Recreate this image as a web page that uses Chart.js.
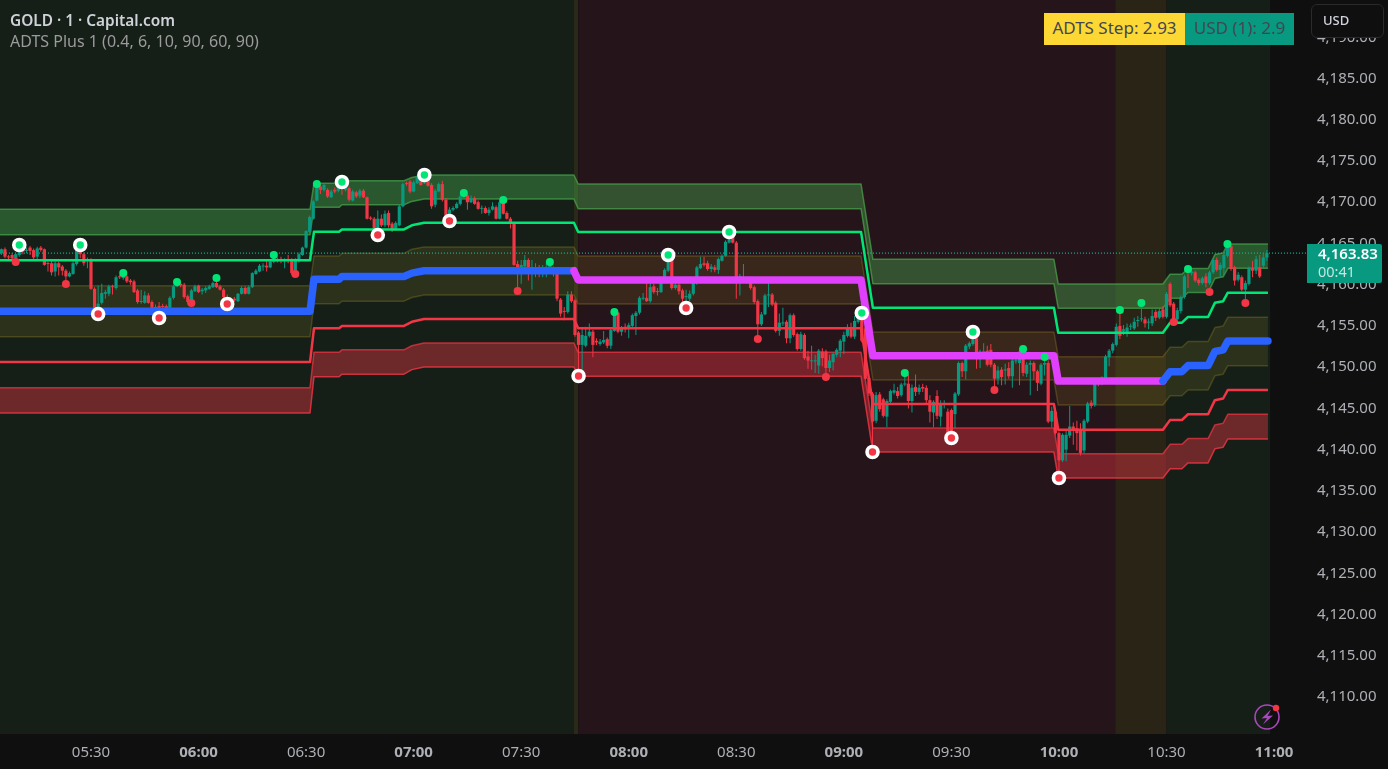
<!DOCTYPE html>
<html>
<head>
<meta charset="utf-8">
<title>GOLD 1m</title>
<script src="https://cdn.jsdelivr.net/npm/chart.js@4"></script>
<style>
  html, body { margin: 0; padding: 0; background: #0f0f0f; overflow: hidden; }
  #wrap { position: relative; width: 1388px; height: 769px; font-family: "Noto Sans", sans-serif; }
  canvas { position: absolute; left: 0; top: 0; }
  .txt { position: absolute; white-space: nowrap; }
  #symbol { left: 10px; top: 10px; font-size: 15.4px; font-weight: 600; color: #cfd2d8; }
  #study { left: 10px; top: 30px; font-size: 16px; color: #9b9b9b; }
  #stepBox { left: 1044px; top: 13px; width: 141px; height: 32px; line-height: 30px; text-align: center; background: #fdd835; color: #434651; font-size: 17px; }
  #usdBox { left: 1185px; top: 13px; width: 109px; height: 32px; line-height: 30px; text-align: center; background: #089981; color: #434651; font-size: 17px; }
  #currency { left: 1311px; top: 4px; width: 71px; height: 32px; line-height: 31px; background: #0f0f0f; border: 1px solid #2a2a2a; border-radius: 6px; color: #d1d4dc; font-size: 13px; font-weight: 500; text-indent: 11px; }
  #lastBox { left: 1307px; top: 244px; width: 75px; height: 39px; background: #089981; border-radius: 0 2px 2px 0; }
  #lastPrice { left: 1318px; top: 244px; font-size: 15px; font-weight: 600; color: #fff; line-height: 19px; }
  #countdown { left: 1318px; top: 262px; font-size: 14.5px; color: #c4e6df; line-height: 19px; }
  #bolt { position: absolute; left: 1253px; top: 703px; }
</style>
</head>
<body>
<div id="wrap">
  <canvas id="goldChart" width="1388" height="769"></canvas>
  <div class="txt" id="symbol">GOLD · 1 · Capital.com</div>
  <div class="txt" id="study">ADTS Plus 1 (0.4, 6, 10, 90, 60, 90)</div>
  <div class="txt" id="stepBox">ADTS Step: 2.93</div>
  <div class="txt" id="usdBox">USD (1): 2.9</div>
  <div class="txt" id="currency">USD</div>
  <div class="txt" id="lastBox"></div>
  <div class="txt" id="lastPrice">4,163.83</div>
  <div class="txt" id="countdown">00:41</div>
  <svg id="bolt" width="30" height="30" viewBox="0 0 30 30">
    <circle cx="14" cy="14" r="12" fill="none" stroke="#ab47bc" stroke-width="1.6"/>
    <path d="M18 6.5 L8.5 15.5 L14 15 L10 21.5 L20 12.5 L14.5 13 Z" fill="#ab47bc"/>
    <circle cx="23" cy="5" r="3.2" fill="#f23645"/>
  </svg>
</div>
<script>
// one candle per minute, the first one is at 05:05
const firstMinute = 305;
const opens = [
4163.8,4164.3,4163.4,4163.6,4163.2,4163.6,4164.4,4164.1,4164.5,4164.2,
4163.4,4164.5,4164.3,4162.6,4162.6,4161.6,4162.6,4162.2,4161.7,4161.0,
4161.3,4162.5,4164.4,4163.7,4162.9,4163.0,4159.5,4156.5,4157.8,4158.9,
4158.9,4159.8,4159.6,4161.0,4160.8,4161.0,4160.5,4160.4,4159.3,4157.9,
4157.8,4158.7,4157.9,4156.9,4157.4,4157.4,4157.4,4157.2,4158.4,4159.8,
4160.1,4160.0,4158.6,4157.9,4159.2,4159.9,4159.2,4159.3,4159.5,4159.7,
4160.2,4159.8,4159.4,4158.5,4157.8,4158.3,4158.0,4158.9,4159.6,4158.9,
4159.7,4161.3,4161.6,4162.2,4162.3,4162.1,4162.8,4163.1,4163.1,4162.9,
4163.1,4162.9,4161.4,4162.9,4163.6,4164.5,4166.4,4168.0,4170.2,4171.9,
4171.5,4171.5,4170.6,4171.5,4171.4,4172.1,4171.5,4171.7,4170.2,4171.2,
4170.8,4171.4,4170.6,4168.1,4168.0,4166.6,4168.0,4167.2,4168.7,4167.4,
4166.8,4167.2,4169.5,4172.3,4172.5,4171.3,4172.3,4173.0,4172.3,4172.9,
4172.1,4169.7,4171.3,4172.2,4170.3,4168.5,4169.1,4169.3,4169.8,4170.6,
4170.8,4170.0,4170.5,4170.0,4169.2,4169.3,4168.7,4169.1,4169.4,4168.0,
4169.9,4168.7,4168.0,4167.4,4162.5,4161.5,4162.2,4163.0,4161.3,4161.4,
4162.1,4161.3,4161.8,4161.8,4161.8,4161.3,4158.2,4156.8,4156.7,4158.8,
4158.1,4154.2,4152.7,4152.6,4153.8,4154.3,4153.2,4152.8,4153.0,4153.4,
4152.6,4154.4,4156.6,4154.3,4154.9,4154.8,4155.0,4156.2,4156.6,4158.3,
4158.4,4158.0,4159.8,4159.2,4159.1,4160.5,4161.7,4163.3,4159.6,4160.0,
4159.3,4158.5,4158.3,4158.9,4160.5,4162.0,4162.6,4162.6,4161.9,4162.1,
4161.8,4162.9,4163.5,4165.1,4166.1,4165.1,4160.3,4160.8,4160.8,4160.6,
4159.7,4158.0,4155.2,4156.4,4158.7,4158.8,4157.8,4154.4,4155.3,4155.5,
4153.5,4156.3,4154.0,4152.2,4153.9,4151.3,4150.7,4150.7,4150.2,4151.9,
4151.9,4149.9,4150.6,4151.5,4152.0,4153.1,4153.8,4154.8,4153.7,4155.5,
4156.4,4154.7,4148.7,4146.8,4143.5,4146.7,4146.1,4144.0,4145.8,4146.9,
4147.1,4146.6,4147.9,4148.0,4145.9,4147.6,4147.0,4147.6,4147.5,4146.0,
4144.5,4146.5,4144.0,4145.5,4144.6,4144.8,4144.3,4146.7,4150.5,4149.5,
4152.5,4152.8,4153.5,4151.3,4151.8,4152.0,4152.1,4150.3,4148.6,4149.7,
4149.6,4149.9,4148.9,4150.7,4150.5,4151.9,4149.2,4150.3,4150.5,4149.5,
4148.0,4150.3,4150.5,4143.4,4144.6,4142.0,4138.7,4140.0,4141.7,4142.8,
4142.6,4142.4,4139.9,4143.4,4145.7,4145.4,4148.4,4148.6,4148.6,4151.2,
4152.0,4152.7,4155.0,4154.4,4154.3,4154.9,4154.7,4155.6,4155.8,4155.8,
4155.4,4155.3,4156.7,4156.0,4157.0,4156.1,4160.1,4157.7,4155.8,4156.8,
4158.5,4161.6,4161.4,4161.5,4160.6,4160.2,4161.0,4160.2,4161.5,4163.0,
4161.8,4162.0,4163.5,4164.7,4162.1,4160.6,4160.9,4159.4,4160.1,4162.0,
4161.7,4162.1,4162.3,4163.3];
const closes = [
4164.3,4163.4,4163.3,4163.2,4163.7,4164.8,4164.0,4164.2,4164.1,4163.3,
4164.4,4164.2,4162.4,4162.5,4161.5,4162.6,4162.1,4161.7,4161.0,4161.4,
4162.6,4164.2,4163.7,4162.6,4163.1,4159.5,4156.7,4157.7,4159.0,4159.1,
4159.8,4159.7,4160.9,4160.9,4161.6,4160.4,4160.3,4159.1,4157.9,4158.0,
4158.7,4157.8,4157.0,4157.3,4157.0,4157.3,4156.9,4158.4,4159.8,4160.2,
4159.9,4158.5,4157.9,4159.3,4159.8,4159.1,4159.4,4159.6,4159.8,4160.2,
4159.7,4159.4,4158.5,4157.7,4158.2,4158.1,4158.9,4159.6,4158.9,4159.7,
4161.4,4161.7,4162.3,4162.3,4162.1,4162.8,4163.2,4163.0,4163.0,4163.0,
4163.0,4161.4,4163.0,4163.7,4164.5,4166.5,4168.2,4170.1,4172.3,4171.5,
4172.1,4170.7,4171.3,4171.3,4172.1,4171.7,4172.0,4170.3,4171.3,4170.7,
4171.4,4170.6,4168.0,4168.0,4166.4,4168.0,4167.2,4168.6,4167.2,4166.6,
4167.5,4169.5,4172.2,4172.2,4171.3,4172.4,4173.0,4172.1,4173.3,4172.0,
4169.5,4171.4,4172.2,4170.3,4168.4,4169.1,4169.3,4169.8,4170.7,4171.1,
4170.0,4170.5,4169.8,4169.2,4169.3,4168.7,4169.1,4169.5,4168.0,4170.0,
4168.6,4168.0,4167.4,4162.4,4161.3,4162.4,4163.0,4161.3,4162.1,4161.9,
4161.3,4161.9,4161.9,4162.4,4161.4,4158.3,4156.5,4156.7,4158.8,4158.0,
4153.9,4152.7,4153.9,4153.8,4154.3,4152.7,4153.0,4153.1,4153.3,4152.6,
4154.5,4156.5,4154.3,4154.8,4154.6,4155.1,4156.3,4156.6,4158.4,4158.4,
4158.0,4159.7,4159.1,4159.1,4160.5,4161.8,4163.4,4159.6,4160.0,4159.2,
4158.3,4158.6,4158.9,4160.6,4162.1,4162.5,4162.4,4161.9,4162.2,4161.8,
4163.1,4163.5,4165.2,4166.2,4165.1,4160.3,4161.0,4160.9,4160.4,4159.6,
4157.9,4155.2,4156.4,4158.7,4158.8,4157.6,4154.4,4155.4,4155.4,4153.5,
4156.3,4153.9,4152.2,4154.0,4151.1,4150.8,4150.8,4150.8,4152.0,4151.1,
4149.9,4150.8,4151.6,4152.1,4153.2,4153.9,4154.8,4153.7,4155.6,4156.1,
4153.2,4148.6,4146.8,4143.4,4146.6,4144.9,4144.1,4145.9,4147.1,4147.2,
4146.5,4147.9,4148.0,4145.9,4147.5,4147.0,4147.5,4147.4,4146.0,4144.6,
4145.8,4144.1,4145.5,4145.6,4142.0,4141.9,4146.8,4150.5,4149.5,4152.6,
4152.9,4153.7,4151.3,4151.9,4151.9,4150.3,4150.3,4148.6,4149.6,4148.8,
4149.7,4148.9,4150.8,4150.8,4151.9,4149.3,4150.3,4150.5,4149.5,4148.1,
4150.3,4150.5,4143.4,4144.7,4142.0,4138.7,4141.8,4141.8,4142.8,4142.4,
4142.0,4139.6,4143.5,4145.6,4145.3,4148.2,4148.1,4148.7,4151.3,4152.0,
4152.8,4154.9,4153.8,4154.6,4154.8,4155.0,4155.5,4155.7,4155.9,4155.3,
4155.5,4156.2,4156.0,4156.8,4156.1,4158.9,4157.5,4155.6,4156.9,4158.5,
4161.0,4161.4,4161.6,4160.5,4160.2,4160.8,4160.2,4161.5,4163.0,4161.8,
4162.4,4163.6,4164.7,4161.9,4160.5,4161.2,4159.4,4160.2,4162.0,4161.7,
4163.1,4161.0,4163.3,4163.83];
const highs = [
4164.4,4164.5,4163.6,4163.8,4163.9,4165.0,4164.6,4164.5,4164.7,4164.4,
4164.6,4164.7,4164.4,4162.8,4162.9,4162.8,4162.8,4162.4,4161.9,4161.6,
4162.8,4164.5,4165.0,4163.9,4163.3,4163.2,4159.7,4159.9,4160.1,4159.4,
4160.0,4160.0,4161.1,4161.2,4161.7,4161.2,4160.7,4160.6,4159.5,4159.4,
4159.2,4159.0,4158.1,4157.6,4157.9,4157.7,4157.6,4158.6,4160.0,4160.3,
4160.3,4160.2,4158.8,4159.5,4160.0,4160.0,4159.6,4159.8,4160.0,4160.4,
4160.8,4160.0,4159.6,4158.8,4158.5,4158.5,4159.0,4159.8,4159.8,4159.9,
4161.5,4161.9,4162.5,4162.6,4162.9,4163.0,4163.5,4163.3,4163.4,4163.2,
4163.6,4163.2,4163.2,4163.9,4164.6,4166.6,4168.4,4170.3,4172.4,4172.2,
4172.3,4171.7,4171.5,4171.8,4172.3,4172.4,4172.2,4171.9,4171.5,4171.4,
4171.6,4171.6,4170.7,4168.3,4168.2,4169.0,4168.5,4169.0,4169.0,4167.6,
4167.7,4169.7,4172.4,4172.5,4172.7,4172.6,4173.2,4173.2,4173.5,4173.1,
4172.3,4171.6,4172.4,4172.6,4170.5,4169.4,4169.5,4170.0,4170.9,4171.3,
4171.0,4170.8,4170.7,4170.2,4169.6,4169.5,4169.4,4170.0,4169.6,4170.2,
4170.3,4168.9,4168.2,4167.5,4162.9,4163.0,4163.6,4163.2,4163.0,4162.6,
4162.4,4162.4,4162.6,4162.7,4162.2,4161.5,4158.4,4157.3,4159.2,4159.2,
4158.3,4154.4,4154.7,4154.9,4155.3,4154.5,4153.5,4153.4,4154.4,4153.6,
4154.8,4156.7,4156.7,4155.0,4155.3,4155.4,4156.5,4156.8,4158.6,4159.0,
4160.4,4160.2,4160.1,4159.6,4160.7,4162.0,4163.6,4163.5,4160.2,4160.2,
4159.5,4159.4,4159.3,4160.8,4162.3,4163.4,4163.4,4162.9,4162.5,4162.4,
4163.3,4163.7,4165.4,4166.4,4166.3,4165.3,4161.3,4162.5,4161.0,4160.8,
4159.9,4158.2,4156.7,4158.9,4160.3,4159.0,4158.0,4156.5,4157.2,4155.7,
4156.5,4156.5,4154.2,4154.3,4154.1,4152.0,4152.6,4151.5,4152.2,4152.3,
4152.1,4151.5,4151.8,4152.3,4153.4,4154.3,4155.2,4155.4,4156.2,4156.4,
4156.8,4154.9,4149.0,4147.0,4147.0,4147.0,4146.3,4146.1,4147.3,4148.0,
4147.6,4148.1,4149.1,4149.1,4147.9,4149.1,4147.9,4148.0,4147.8,4146.6,
4146.0,4147.2,4146.0,4146.0,4145.0,4145.0,4147.0,4150.7,4150.7,4152.8,
4153.1,4154.3,4153.8,4152.1,4152.9,4152.6,4152.8,4150.5,4150.1,4150.0,
4150.4,4150.6,4151.0,4151.2,4152.2,4152.2,4150.6,4150.8,4150.7,4149.7,
4150.5,4151.2,4150.8,4145.2,4145.0,4142.2,4142.0,4142.3,4145.3,4143.3,
4143.5,4143.2,4143.7,4145.8,4146.0,4148.4,4148.7,4148.9,4151.5,4152.2,
4153.0,4155.3,4156.9,4155.1,4155.3,4155.3,4156.0,4156.2,4157.7,4156.1,
4155.9,4157.0,4157.0,4157.2,4157.4,4159.1,4160.3,4157.9,4157.2,4158.7,
4161.2,4161.9,4161.8,4161.7,4160.8,4161.0,4161.4,4161.7,4163.2,4163.3,
4162.7,4163.9,4164.9,4164.9,4162.3,4161.5,4161.1,4160.5,4162.2,4162.9,
4163.5,4163.6,4163.8,4164.2];
const lows = [
4163.6,4163.2,4163.0,4162.9,4162.8,4163.4,4163.7,4163.8,4163.6,4163.0,
4163.1,4164.0,4162.3,4161.6,4161.1,4161.0,4161.1,4161.1,4160.3,4160.9,
4161.2,4162.3,4163.2,4162.3,4162.0,4159.4,4156.5,4156.1,4157.6,4158.3,
4158.6,4158.8,4159.4,4160.7,4160.6,4160.2,4160.0,4159.0,4157.7,4157.7,
4157.7,4157.7,4156.9,4156.7,4156.3,4156.9,4156.7,4157.1,4158.2,4159.7,
4159.7,4158.3,4157.6,4157.7,4159.1,4159.0,4158.8,4159.0,4159.4,4159.6,
4159.6,4159.3,4158.3,4157.4,4157.5,4157.9,4157.9,4158.8,4158.8,4158.8,
4159.6,4161.2,4161.5,4161.7,4161.6,4162.0,4162.6,4162.7,4162.6,4162.0,
4162.6,4161.2,4161.3,4162.7,4163.5,4164.4,4166.3,4167.9,4170.1,4171.0,
4171.3,4170.5,4170.5,4171.1,4171.2,4170.9,4171.3,4170.1,4170.1,4170.5,
4170.5,4170.5,4167.9,4167.8,4165.8,4166.2,4167.0,4167.0,4166.9,4166.4,
4166.6,4167.1,4169.4,4172.0,4171.1,4171.2,4172.2,4172.0,4172.2,4171.9,
4169.2,4169.4,4171.2,4170.1,4167.9,4167.8,4168.9,4169.2,4169.6,4170.5,
4169.1,4169.9,4169.7,4169.1,4168.6,4168.6,4168.4,4169.0,4167.9,4167.9,
4168.5,4167.9,4166.8,4162.3,4159.4,4160.1,4162.0,4160.5,4159.4,4160.9,
4160.9,4160.9,4160.9,4161.5,4161.0,4158.0,4156.1,4155.7,4156.5,4157.8,
4153.7,4149.0,4149.2,4152.4,4153.6,4151.2,4152.7,4152.6,4152.8,4152.3,
4152.2,4154.3,4154.1,4153.8,4154.2,4153.5,4154.8,4153.9,4156.4,4158.1,
4157.9,4157.8,4158.9,4158.7,4159.0,4160.3,4161.5,4159.4,4159.4,4158.8,
4157.6,4157.4,4158.0,4158.7,4160.0,4161.9,4162.2,4161.7,4161.5,4161.5,
4161.3,4162.8,4163.4,4165.0,4165.0,4158.3,4158.7,4160.3,4160.2,4159.4,
4157.7,4153.4,4155.0,4156.3,4157.3,4157.4,4154.2,4153.8,4155.0,4152.9,
4152.9,4153.7,4152.0,4152.0,4150.9,4149.8,4149.7,4149.3,4149.2,4150.1,
4148.8,4149.4,4149.6,4151.2,4151.2,4151.6,4153.6,4153.5,4153.4,4155.3,
4153.0,4148.5,4146.5,4139.7,4143.2,4144.6,4143.9,4142.7,4145.6,4146.7,
4146.2,4146.4,4147.7,4145.0,4144.5,4146.5,4146.7,4147.0,4145.4,4143.3,
4142.7,4143.7,4142.8,4145.0,4141.5,4141.4,4142.6,4146.5,4148.8,4148.5,
4152.2,4152.6,4149.8,4149.9,4151.0,4150.1,4150.0,4147.2,4147.9,4147.8,
4147.9,4148.6,4147.5,4150.4,4147.8,4148.9,4148.8,4146.6,4148.5,4147.1,
4147.8,4149.0,4143.2,4142.7,4141.8,4136.6,4138.5,4138.6,4141.4,4140.6,
4139.9,4139.3,4139.6,4143.2,4145.0,4145.2,4147.7,4147.8,4148.4,4150.1,
4151.7,4152.5,4153.4,4153.9,4153.7,4154.5,4154.5,4154.9,4155.5,4154.8,
4154.6,4155.0,4155.6,4155.8,4155.9,4155.9,4157.3,4155.4,4155.2,4156.5,
4158.3,4159.6,4161.1,4160.3,4159.9,4160.0,4159.7,4160.0,4161.3,4161.6,
4161.0,4161.2,4163.3,4161.7,4159.9,4160.4,4159.2,4157.8,4159.9,4160.9,
4161.3,4160.8,4162.0,4162.9];

// indicator levels, minutes since midnight where the steps happen
const levelTimes = [304.6,391.1,392.2,399.2,400,417.3,419.5,422.9,464.7,465.9,544.8,548.1,598.6,599.8,629,631,634.3,636,641.6,643.5,645.8,647.1,658.3];
const upperBandTop = [4169.14,4169.14,4172.29,4172.29,4172.6,4172.6,4173,4173.3,4173.3,4172.21,4172.21,4163.08,4163.08,4160.08,4160.08,4161.26,4161.26,4161.96,4161.96,4163.65,4163.85,4164.93,4164.93];
const upperBandBottom = [4166.06,4166.06,4169.38,4169.38,4169.7,4169.7,4170.1,4170.39,4170.39,4169.21,4169.21,4160.12,4160.12,4157.14,4157.14,4158.35,4158.35,4159.05,4159.05,4160.75,4160.95,4161.99,4161.99];
const upperLine = [4162.96,4162.96,4166.42,4166.42,4166.7,4166.7,4167.2,4167.51,4167.51,4166.39,4166.39,4157.21,4157.21,4154.18,4154.18,4155.39,4155.39,4156.09,4156.09,4157.8,4158,4159.03,4159.03];
const midBandTop = [4159.88,4159.88,4163.48,4163.48,4163.8,4163.8,4164.3,4164.57,4164.57,4163.48,4163.48,4154.26,4154.26,4151.27,4151.27,4152.41,4152.41,4153.11,4153.11,4154.8,4155,4156.04,4156.04];
const centreLine = [4156.77,4156.77,4160.65,4160.65,4161,4161,4161.4,4161.69,4161.69,4160.57,4160.57,4151.39,4151.39,4148.32,4148.32,4149.45,4149.45,4150.2,4150.2,4151.9,4152.1,4153.17,4153.17];
const midBandBottom = [4153.69,4153.69,4157.69,4157.69,4158,4158,4158.45,4158.75,4158.75,4157.66,4157.66,4148.44,4148.44,4145.41,4145.41,4146.54,4146.54,4147.24,4147.24,4148.95,4149.15,4150.18,4150.18];
const lowerLine = [4150.62,4150.62,4154.71,4154.71,4155,4155,4155.5,4155.84,4155.84,4154.71,4154.71,4145.53,4145.53,4142.41,4142.41,4143.59,4143.59,4144.29,4144.29,4146,4146.2,4147.23,4147.23];
const lowerBandTop = [4147.51,4147.51,4151.8,4151.8,4152.1,4152.1,4152.6,4152.93,4152.93,4151.8,4151.8,4142.62,4142.62,4139.5,4139.5,4140.64,4140.64,4141.34,4141.34,4143,4143.2,4144.28,4144.28];
const lowerBandBottom = [4144.44,4144.44,4148.84,4148.84,4149.15,4149.15,4149.7,4150.02,4150.02,4148.89,4148.89,4139.71,4139.71,4136.56,4136.56,4137.69,4137.69,4138.39,4138.39,4140.1,4140.3,4141.29,4141.29];

// pivot markers: minute and price
const ringHighTimes = [310,327,400,423,491,508,545,576];
const ringHighPrices = [4164.81,4164.81,4172.45,4173.3,4163.6,4166.39,4156.57,4154.26];
const ringLowTimes = [332,349,368,410,430,466,496,548,570,600];
const ringLowPrices = [4156.44,4155.96,4157.66,4166.02,4167.72,4148.93,4157.17,4139.71,4141.41,4136.56];
const dotHighTimes = [339,354,365,381,393,434,445,458,476,557,590,596,617,623,636,647];
const dotHighPrices = [4161.42,4160.32,4160.81,4163.6,4172.21,4171.12,4170.27,4162.75,4156.69,4149.29,4152.2,4151.23,4156.93,4157.78,4161.9,4164.93];
const dotLowTimes = [309,323,358,387,449,516,535,582,632,642,652];
const dotLowPrices = [4162.75,4160.08,4157.78,4161.29,4159.23,4153.41,4148.8,4147.23,4155.47,4159.11,4157.78];

// session shading
const zoneStarts = [304.6,464.7,465.9,615.7,630];
const zoneEnds = [464.7,465.9,615.7,630,658.9];
const zoneColors = ['#151f18','#2a2a18','#25141a','#2a2417','#151f18'];

const lastPrice = 4163.83;

const GREEN = '#089981', RED = '#f23645';
const minutes = opens.map((_, i) => firstMinute + i);
const candleColors = opens.map((o, i) => closes[i] >= o ? GREEN : RED);
const pts = (xs, ys) => xs.map((x, i) => ({x: x, y: ys[i]}));

function levelLine(values, color, width, order, extra) {
    return Object.assign({
        type: 'line',
        data: pts(levelTimes, values),
        borderColor: color,
        borderWidth: width,
        pointRadius: 0,
        fill: false,
        order: order,
        borderJoinStyle: 'round'
    }, extra || {});
}

function centrePart(from, to, color, order) {
    return {
        type: 'line',
        data: pts(levelTimes.slice(from, to), centreLine.slice(from, to)),
        borderColor: color,
        borderWidth: 7.5,
        pointRadius: 0,
        fill: false,
        order: order,
        borderCapStyle: 'round',
        borderJoinStyle: 'round'
    };
}

function markers(xs, ys, color, ring, order) {
    return {
        type: 'line',
        showLine: false,
        data: pts(xs, ys),
        pointRadius: ring ? 5.5 : 4,
        pointBorderWidth: ring ? 3.6 : 0,
        pointBorderColor: '#ffffff',
        pointBackgroundColor: color,
        order: order
    };
}

// the axes must not push the plot in for half a tick label
function noLabelMargins(scale) {
    scale.paddingLeft = 0;
    scale.paddingRight = 0;
    scale.paddingTop = 0;
    scale.paddingBottom = 0;
}

const zonePlugin = {
    id: 'zones',
    beforeDatasetsDraw(chart) {
        const {ctx, chartArea, scales} = chart;
        ctx.save();
        zoneStarts.forEach((s, i) => {
            const x0 = scales.x.getPixelForValue(s);
            const x1 = scales.x.getPixelForValue(zoneEnds[i]);
            ctx.fillStyle = zoneColors[i];
            ctx.fillRect(x0, chartArea.top, x1 - x0, chartArea.bottom - chartArea.top);
        });
        ctx.restore();
    }
};

const goldCtx = document.getElementById('goldChart').getContext('2d');
const goldChart = new Chart(goldCtx, {
    type: 'bar',
    plugins: [zonePlugin],
    data: {
        datasets: [
            levelLine(upperBandTop, 'rgba(76,175,80,0.65)', 1.5, 60, {fill: {target: 1}, backgroundColor: 'rgba(76,175,80,0.4)'}),
            levelLine(upperBandBottom, 'rgba(76,175,80,0.65)', 1.5, 60),
            levelLine(midBandTop, 'rgba(230,200,50,0.2)', 1.5, 60, {fill: {target: 3}, backgroundColor: 'rgba(230,200,50,0.11)'}),
            levelLine(midBandBottom, 'rgba(230,200,50,0.2)', 1.5, 60),
            levelLine(lowerBandTop, 'rgba(242,54,69,0.7)', 1.5, 60, {fill: {target: 5}, backgroundColor: 'rgba(242,54,69,0.4)'}),
            levelLine(lowerBandBottom, 'rgba(242,54,69,0.8)', 1.5, 60),
            {
                type: 'line',
                data: pts([304.6, 669.4], [lastPrice, lastPrice]),
                borderColor: '#12b397',
                borderWidth: 1.2,
                borderDash: [1, 2],
                pointRadius: 0,
                order: 45
            },
            {
                data: minutes.map((m, i) => ({x: m, y: [lows[i], highs[i]]})),
                backgroundColor: candleColors,
                barThickness: 1,
                grouped: false,
                inflateAmount: 0,
                order: 40
            },
            {
                data: minutes.map((m, i) => ({x: m, y: [opens[i], closes[i]]})),
                backgroundColor: candleColors,
                barThickness: 3.2,
                grouped: false,
                minBarLength: 1,
                inflateAmount: 0,
                order: 39
            },
            levelLine(upperLine, '#00e676', 2.5, 20),
            levelLine(lowerLine, RED, 2.5, 20),
            centrePart(0, 9, '#2962ff', 12),
            centrePart(8, 15, '#e040fb', 11),
            centrePart(14, 23, '#2962ff', 10),
            markers(dotHighTimes, dotHighPrices, '#00e676', false, 3),
            markers(dotLowTimes, dotLowPrices, RED, false, 3),
            markers(ringHighTimes, ringHighPrices, '#00e676', true, 2),
            markers(ringLowTimes, ringLowPrices, RED, true, 2)
        ]
    },
    options: {
        responsive: false,
        animation: false,
        events: [],
        layout: {padding: 0, autoPadding: false},
        plugins: {legend: {display: false}, tooltip: {enabled: false}},
        scales: {
            x: {
                type: 'linear',
                offset: false,
                min: 304.62,
                max: 669.47,
                afterFit(scale) { scale.height = 35; noLabelMargins(scale); },
                grid: {display: false, offset: false},
                border: {display: false},
                ticks: {
                    stepSize: 30,
                    includeBounds: false,
                    autoSkip: false,
                    maxRotation: 0,
                    padding: 2,
                    color: '#aeb0b5',
                    font: ctx => ({
                        family: '"Noto Sans", sans-serif',
                        size: 15,
                        weight: ctx.tick && ctx.tick.value % 60 === 0 ? 'bold' : 'normal'
                    }),
                    callback: v => String(Math.floor(v / 60)).padStart(2, '0') + ':' + String(v % 60).padStart(2, '0')
                }
            },
            y: {
                type: 'linear',
                position: 'right',
                min: 4105.52,
                max: 4194.52,
                afterFit(scale) { scale.width = 80; noLabelMargins(scale); },
                grid: {display: false},
                border: {display: false},
                ticks: {
                    stepSize: 5,
                    includeBounds: false,
                    padding: 1,
                    color: '#aeb0b5',
                    font: {family: '"Noto Sans", sans-serif', size: 15},
                    callback: v => v.toLocaleString('en-US', {minimumFractionDigits: 2, maximumFractionDigits: 2})
                }
            }
        }
    }
});
</script>
</body>
</html>
